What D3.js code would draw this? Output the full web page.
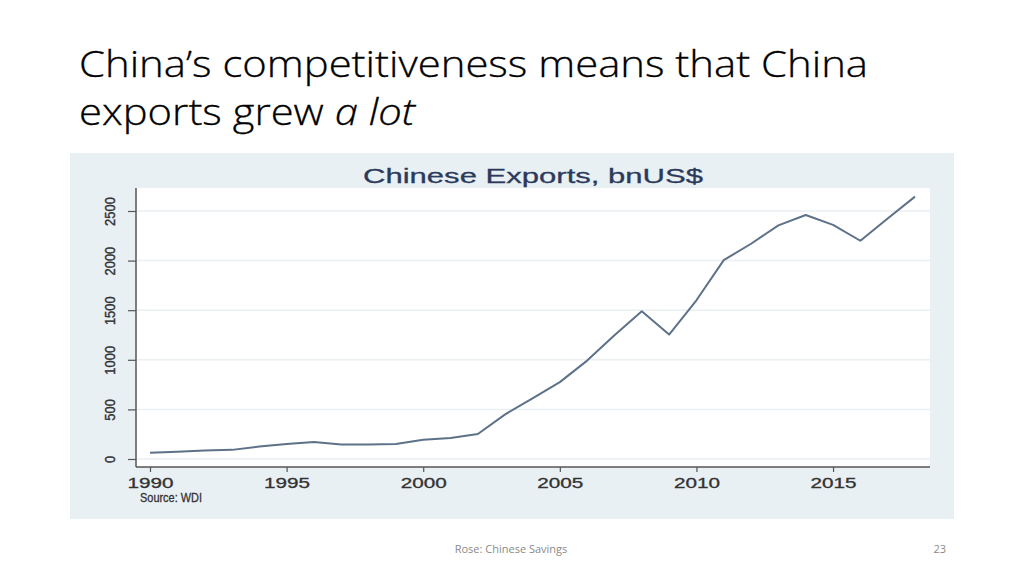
<!DOCTYPE html>
<html>
<head>
<meta charset="utf-8">
<script src="https://cdn.jsdelivr.net/npm/d3@7"></script>
<style>
	body { margin: 0; background: #fff; }
	svg { display: block; }
</style>
</head>
<body>
<svg id="slide" width="1024" height="576"></svg>
<script>
/*global d3 */
'use strict';

// Chinese exports, bn US$
var years = [1990, 1991, 1992, 1993, 1994, 1995, 1996, 1997, 1998, 1999,
	2000, 2001, 2002, 2003, 2004, 2005, 2006, 2007, 2008, 2009,
	2010, 2011, 2012, 2013, 2014, 2015, 2016, 2017, 2018];
var exports_bn = [62, 72, 85, 92, 125, 150, 171, 145, 145, 152,
	195, 212, 252, 450, 612, 775, 992, 1248, 1490, 1255,
	1600, 2005, 2170, 2355, 2460, 2360, 2200, 2425, 2645];
var y_ticks = [0, 500, 1000, 1500, 2000, 2500];
var x_ticks = [1990, 1995, 2000, 2005, 2010, 2015];

var svg = d3.select('#slide');

// Slide title
var title_font = '"Open Sans", "Noto Sans", sans-serif';
svg.append('text')
	.attr('x', 79).attr('y', 77)
	.attr('font-family', title_font).attr('font-weight', 300)
	.attr('font-size', 37).attr('fill', '#000')
	.attr('stroke', '#000').attr('stroke-width', 0.3)
	.attr('textLength', 789).attr('lengthAdjust', 'spacingAndGlyphs')
	.text('China\u2019s competitiveness means that China');

var line2 = svg.append('text')
	.attr('x', 79).attr('y', 125)
	.attr('font-family', title_font).attr('font-weight', 300)
	.attr('font-size', 37).attr('fill', '#000')
	.attr('stroke', '#000').attr('stroke-width', 0.3)
	.attr('textLength', 336).attr('lengthAdjust', 'spacingAndGlyphs');
line2.append('tspan').text('exports grew ');
line2.append('tspan').attr('font-style', 'italic').text('a lot');

// Chart panel (the pasted Stata graph)
var panel = { left: 70, top: 153, right: 954, bottom: 519 };
var plot = { left: 136, top: 188, right: 930, bottom: 467 };

svg.append('rect')
	.attr('x', panel.left).attr('y', panel.top)
	.attr('width', panel.right - panel.left).attr('height', panel.bottom - panel.top)
	.attr('fill', '#e9f0f3');

svg.append('rect')
	.attr('x', plot.left).attr('y', plot.top)
	.attr('width', plot.right - plot.left).attr('height', plot.bottom - plot.top)
	.attr('fill', '#fff');

var x_scale = d3.scaleLinear().domain([1990, 2018]).range([150, 915]);
var y_scale = d3.scaleLinear().domain([0, 2500]).range([459, 211]);

var chart_font = '"Liberation Sans", Arial, sans-serif';

// Chart title
svg.append('text')
	.attr('x', 533).attr('y', 183)
	.attr('text-anchor', 'middle')
	.attr('font-family', chart_font).attr('font-size', 21)
	.attr('fill', '#2b3a5c').attr('stroke', '#2b3a5c').attr('stroke-width', 0.3)
	.attr('textLength', 340).attr('lengthAdjust', 'spacingAndGlyphs')
	.text('Chinese Exports, bnUS$');

// Horizontal grid lines
svg.append('g').selectAll('line.grid')
	.data(y_ticks)
	.enter().append('line')
	.attr('class', 'grid')
	.attr('x1', plot.left + 1).attr('x2', plot.right)
	.attr('y1', function(d) { return y_scale(d); })
	.attr('y2', function(d) { return y_scale(d); })
	.attr('stroke', '#eaeff2').attr('stroke-width', 1.5);

// Y axis (labels rotated, Stata style)
var y_axis = svg.append('g')
	.attr('transform', 'translate(' + plot.left + ',0)')
	.call(d3.axisLeft(y_scale).tickValues(y_ticks).tickFormat(d3.format('d')).tickSize(8).tickPadding(0));
y_axis.select('.domain').remove();
y_axis.selectAll('.tick line').attr('stroke', '#555').attr('stroke-width', 1.2);
y_axis.selectAll('.tick text')
	.attr('transform', 'rotate(-90)')
	.attr('x', 0).attr('y', -21).attr('dy', 0)
	.attr('text-anchor', 'middle')
	.attr('font-family', chart_font).attr('font-size', 15.5)
	.attr('fill', '#333').attr('stroke', '#333').attr('stroke-width', 0.4)
	.attr('lengthAdjust', 'spacingAndGlyphs')
	.attr('textLength', function(d) { return String(d).length * 7.2; });

// X axis
var x_axis = svg.append('g')
	.attr('transform', 'translate(0,' + plot.bottom + ')')
	.call(d3.axisBottom(x_scale).tickValues(x_ticks).tickFormat(d3.format('d')).tickSize(5).tickPadding(6));
x_axis.select('.domain').remove();
x_axis.selectAll('.tick line').attr('stroke', '#555').attr('stroke-width', 1.2);
x_axis.selectAll('.tick text')
	.attr('dy', '0.71em')
	.attr('font-family', chart_font).attr('font-size', 14)
	.attr('fill', '#333').attr('stroke', '#333').attr('stroke-width', 0.3)
	.attr('textLength', 46).attr('lengthAdjust', 'spacingAndGlyphs');

// Axis frame lines
svg.append('line')
	.attr('x1', plot.left).attr('x2', plot.left)
	.attr('y1', plot.top).attr('y2', plot.bottom)
	.attr('stroke', '#555').attr('stroke-width', 1.5);
svg.append('line')
	.attr('x1', plot.left).attr('x2', plot.right)
	.attr('y1', plot.bottom).attr('y2', plot.bottom)
	.attr('stroke', '#555').attr('stroke-width', 1.5);

// Exports line
var series = years.map(function(yr, i) { return { year: yr, value: exports_bn[i] }; });
var line = d3.line()
	.x(function(d) { return x_scale(d.year); })
	.y(function(d) { return y_scale(d.value); });

svg.append('path')
	.datum(series)
	.attr('d', line)
	.attr('fill', 'none')
	.attr('stroke', '#5d7189')
	.attr('stroke-width', 2)
	.attr('stroke-linejoin', 'round');

// Source note
svg.append('text')
	.attr('x', 140).attr('y', 502)
	.attr('font-family', chart_font).attr('font-size', 12.5)
	.attr('fill', '#333').attr('stroke', '#333').attr('stroke-width', 0.3)
	.attr('textLength', 62).attr('lengthAdjust', 'spacingAndGlyphs')
	.text('Source: WDI');

// Slide footer
svg.append('text')
	.attr('x', 511).attr('y', 553)
	.attr('text-anchor', 'middle')
	.attr('font-family', title_font).attr('font-size', 11)
	.attr('fill', '#8a8a8a')
	.text('Rose: Chinese Savings');

svg.append('text')
	.attr('x', 946).attr('y', 553)
	.attr('text-anchor', 'end')
	.attr('font-family', title_font).attr('font-size', 11)
	.attr('fill', '#8a8a8a')
	.text('23');
</script>
</body>
</html>
